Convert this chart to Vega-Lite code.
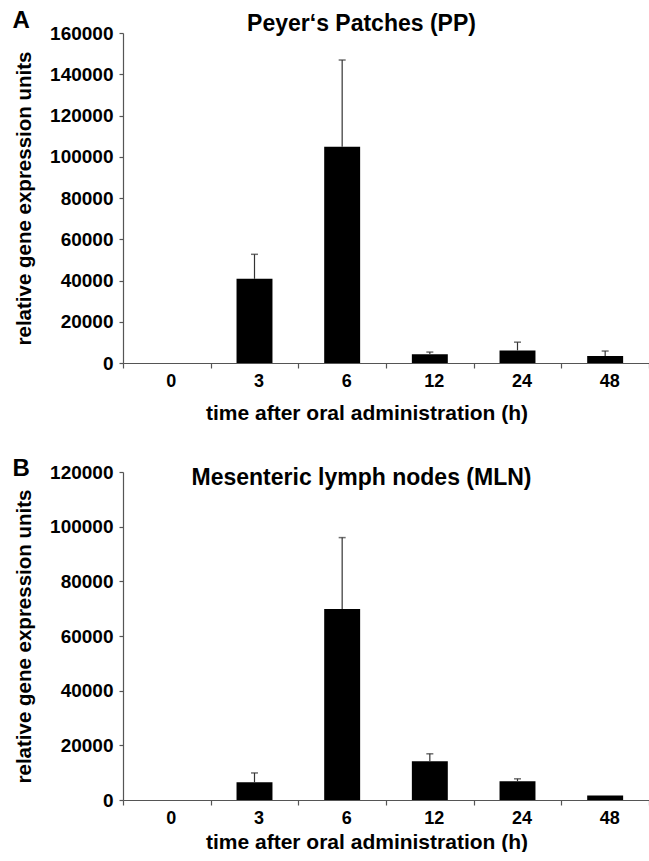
{
  "$schema": "https://vega.github.io/schema/vega-lite/v6.json",
  "padding": {"top": 8, "left": 12, "right": 0, "bottom": 0},
  "background": "white",
  "config": {
    "view": {"stroke": null},
    "font": "Liberation Sans",
    "axis": {
      "labelFont": "Liberation Sans", "labelFontWeight": "bold", "labelColor": "black",
      "titleFont": "Liberation Sans", "titleFontWeight": "bold", "titleColor": "black",
      "domainColor": "#555", "tickColor": "#555", "grid": false, "domainWidth": 1.2, "tickWidth": 1.2
    }
  },
  "datasets": {
    "pp": [
      {"time": "0", "mean": 0, "upper": null},
      {"time": "3", "mean": 40800, "upper": 52700},
      {"time": "6", "mean": 104900, "upper": 146900},
      {"time": "12", "mean": 4200, "upper": 5300},
      {"time": "24", "mean": 6100, "upper": 10100},
      {"time": "48", "mean": 3400, "upper": 5800}
    ],
    "mln": [
      {"time": "0", "mean": 0, "upper": null},
      {"time": "3", "mean": 6500, "upper": 9900},
      {"time": "6", "mean": 69900, "upper": 96000},
      {"time": "12", "mean": 14200, "upper": 16900},
      {"time": "24", "mean": 6900, "upper": 7750},
      {"time": "48", "mean": 1650, "upper": null}
    ]
  },
  "spacing": 33,
  "vconcat": [
    {
      "width": 526,
      "height": 330,
      "data": {"name": "pp"},
      "resolve": {"axis": {"x": "independent", "y": "independent"}},
      "layer": [
        {
          "mark": {"type": "bar", "color": "black", "width": {"band": 0.41}},
          "encoding": {
            "x": {
              "field": "time", "type": "ordinal", "sort": null,
              "scale": {"paddingInner": 0, "paddingOuter": 0},
              "axis": {
                "orient": "bottom",
                "title": "time after oral administration (h)", "labelAngle": 0, "tickBand": "extent",
                "labelFontSize": 18, "titleFontSize": 21, "tickSize": 5, "labelPadding": 4, "labelOffset": 4,
                "titleX": 243.5, "titleY": 56, "titleAlign": "center", "titleBaseline": "alphabetic"
              }
            },
            "y": {
              "field": "mean", "type": "quantitative", "title": "relative gene expression units",
              "scale": {"domain": [0, 160000], "nice": false},
              "axis": {
                "orient": "left",
                "values": [0, 20000, 40000, 60000, 80000, 100000, 120000, 140000, 160000],
                "format": "d", "labelFontSize": 19, "titleFontSize": 20.5, "tickSize": 4, "labelPadding": 6,
                "titleX": -93, "titleY": 165, "titleAngle": -90, "titleAlign": "center", "titleBaseline": "alphabetic"
              }
            }
          }
        },
        {
          "transform": [{"filter": "datum.upper != null"}],
          "mark": {"type": "rule", "color": "#333", "strokeWidth": 1.2},
          "encoding": {
            "x": {
              "field": "time", "type": "ordinal", "sort": null,
              "axis": {
                "orient": "top", "title": "Peyer‘s Patches (PP)", "labels": false, "ticks": false, "domain": false,
                "titleX": 238, "titleY": -3, "titleAlign": "center", "titleBaseline": "alphabetic",
                "titleFontSize": 23, "titleAngle": 0
              }
            },
            "y": {"field": "mean", "type": "quantitative", "axis": null},
            "y2": {"field": "upper"}
          }
        },
        {
          "transform": [{"filter": "datum.upper != null"}],
          "mark": {"type": "tick", "color": "#333", "thickness": 1.5, "size": 7},
          "encoding": {
            "x": {"field": "time", "type": "ordinal", "sort": null, "axis": null},
            "y": {
              "field": "upper", "type": "quantitative",
              "axis": {
                "orient": "right", "title": "A", "labels": false, "ticks": false, "domain": false,
                "titleX": -637, "titleY": -6, "titleAlign": "left", "titleBaseline": "alphabetic",
                "titleAngle": 0, "titleFontSize": 24
              }
            }
          }
        }
      ]
    },
    {
      "width": 526,
      "height": 328,
      "data": {"name": "mln"},
      "resolve": {"axis": {"x": "independent", "y": "independent"}},
      "layer": [
        {
          "mark": {"type": "bar", "color": "black", "width": {"band": 0.41}},
          "encoding": {
            "x": {
              "field": "time", "type": "ordinal", "sort": null,
              "scale": {"paddingInner": 0, "paddingOuter": 0},
              "axis": {
                "orient": "bottom",
                "title": "time after oral administration (h)", "labelAngle": 0, "tickBand": "extent",
                "labelFontSize": 18, "titleFontSize": 21, "tickSize": 5, "labelPadding": 4, "labelOffset": 4,
                "titleX": 243.5, "titleY": 48, "titleAlign": "center", "titleBaseline": "alphabetic"
              }
            },
            "y": {
              "field": "mean", "type": "quantitative", "title": "relative gene expression units",
              "scale": {"domain": [0, 120000], "nice": false},
              "axis": {
                "orient": "left",
                "values": [0, 20000, 40000, 60000, 80000, 100000, 120000],
                "format": "d", "labelFontSize": 19, "titleFontSize": 20.5, "tickSize": 4, "labelPadding": 6,
                "titleX": -93, "titleY": 164, "titleAngle": -90, "titleAlign": "center", "titleBaseline": "alphabetic"
              }
            }
          }
        },
        {
          "transform": [{"filter": "datum.upper != null"}],
          "mark": {"type": "rule", "color": "#333", "strokeWidth": 1.2},
          "encoding": {
            "x": {
              "field": "time", "type": "ordinal", "sort": null,
              "axis": {
                "orient": "top", "title": "Mesenteric lymph nodes (MLN)", "labels": false, "ticks": false, "domain": false,
                "titleX": 238, "titleY": 12, "titleAlign": "center", "titleBaseline": "alphabetic",
                "titleFontSize": 23, "titleAngle": 0
              }
            },
            "y": {"field": "mean", "type": "quantitative", "axis": null},
            "y2": {"field": "upper"}
          }
        },
        {
          "transform": [{"filter": "datum.upper != null"}],
          "mark": {"type": "tick", "color": "#333", "thickness": 1.5, "size": 7},
          "encoding": {
            "x": {"field": "time", "type": "ordinal", "sort": null, "axis": null},
            "y": {
              "field": "upper", "type": "quantitative",
              "axis": {
                "orient": "right", "title": "B", "labels": false, "ticks": false, "domain": false,
                "titleX": -637, "titleY": 3, "titleAlign": "left", "titleBaseline": "alphabetic",
                "titleAngle": 0, "titleFontSize": 24
              }
            }
          }
        }
      ]
    }
  ]
}
